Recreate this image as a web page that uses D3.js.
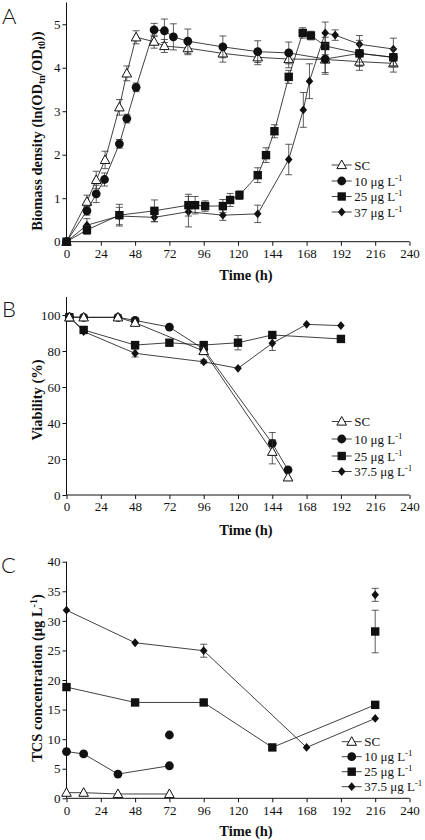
<!DOCTYPE html>
<html><head><meta charset="utf-8">
<script src="https://cdn.jsdelivr.net/npm/d3@7"></script>
<style>
html,body{margin:0;padding:0;background:#fff;}
svg{display:block;}
text{font-family:"Liberation Serif","Times New Roman",serif;fill:#111;}
</style></head>
<body>
<script>
// ---------- DATA ----------
const xTicks = [0,24,48,72,96,120,144,168,192,216,240];

// Panel A: biomass density
const aTicksY = [0,1,2,3,4,5];
const aTimeSC  = [0,14.3,20.8,27,37,42.2,48.7,61.3,68.5,84.9,109.4,133.8,155.5,181,205,228.7];
const aSC      = [0,0.92,1.42,1.88,3.09,3.87,4.70,4.60,4.50,4.45,4.33,4.24,4.20,4.19,4.14,4.10];
const aSCErr   = [0,0.15,0.2,0.2,0.18,0.17,0.15,0.15,0.15,0.15,0.2,0.17,0.2,0.3,0.2,0.2];
const aTime10  = [0,14.3,20.8,26.6,37,42.2,48.7,61.3,68.5,74.8,84.9,109.4,133.8,155.5,181,205,228.7];
const a10      = [0,0.71,1.10,1.43,2.25,2.83,3.55,4.87,4.85,4.71,4.61,4.48,4.37,4.34,4.20,4.33,4.24];
const a10Err   = [0,0.1,0.2,0.15,0.1,0.1,0.1,0.15,0.27,0.3,0.28,0.25,0.25,0.25,0.35,0.3,0.2];
const aTime25  = [0,14.3,37,61.5,85.3,90,97,109.4,114.5,121,133.8,139.6,145.5,155.5,165.3,171,181,205,228.7];
const a25      = [0,0.27,0.61,0.71,0.84,0.84,0.82,0.82,0.96,1.07,1.53,1.99,2.54,3.79,4.80,4.74,4.50,4.33,4.24];
const a25Err   = [0,0.1,0.25,0.25,0.25,0.2,0.12,0.15,0.15,0.1,0.17,0.17,0.15,0.15,0.12,0.1,0.2,0.2,0.2];
const aTime37  = [0,14.3,37,61.5,85.3,109.4,133.8,155.5,165.7,170,181,188,205,228.7];
const a37      = [0,0.38,0.59,0.56,0.69,0.61,0.64,1.89,3.03,3.69,4.80,4.75,4.54,4.43];
const a37Err   = [0,0.15,0.2,0.1,0.35,0.12,0.2,0.35,0.4,0.4,0.25,0.12,0.2,0.25];

// Panel B: viability
const bTicksY = [0,20,40,60,80,100];
const bTimeSC  = [2,12,36,48,96,144,155];
const bSC      = [98.7,98.7,98.7,95.7,80,24,9.8];
const bSCErr   = [1,1,1,1.5,2,6.7,0];
const bTime10  = [2,12,36,48,72,96,144,155];
const b10      = [99,98.7,98.7,97,93.3,81,28.7,13.9];
const b10Err   = [0,0,0,1,0,1,6,0];
const bTime25  = [2,12,48,72,96,120,144,192];
const b25      = [98.7,91.7,83.3,84.6,83.3,84.6,88.9,86.7];
const b25Err   = [1,1,0,0,1,4,0,0];
const bTime37  = [2,12,48,96,120,144,168,192];
const b37      = [99,90.8,78.7,74,70.4,84.3,94.8,94.1];
const b37Err   = [0,0,2,1,0,4,0,0];

// Panel C: TCS concentration
const cTicksY = [0,5,10,15,20,25,30,35,40];
const cTimeSC  = [0,12,36,72];
const cSC      = [0.95,0.95,0.73,0.73];
const cTime10  = [0,12,36,72];
const c10      = [7.9,7.5,4.1,5.5];
const c10Extra = [[72,10.7,0]];
const cTime25  = [0,48,96,144,216];
const c25      = [18.8,16.2,16.2,8.6,15.8];
const c25Extra = [[216,28.2,3.6]];
const cTime37  = [0,48,96,168,216];
const c37      = [31.8,26.3,24.95,8.6,13.5];
const c37Err   = [0,0,1.1,0,0];
const c37Extra = [[216,34.4,1.1]];

const legendA = ["SC","10 μg L","25 μg L","37 μg L"];
const legendBC = ["SC","10 μg L","25 μg L","37.5 μg L"];

// ---------- DRAW ----------
const W = 425, H = 840;
const svg = d3.select("body").append("svg").attr("width",W).attr("height",H);
const x = d3.scaleLinear().domain([0,240]).range([66.5,409.5]);

function marker(g, type, cx, cy){
  if(type==="tri"){
    g.append("path").attr("d",`M${cx},${cy-5}L${cx+4.8},${cy+3.6}L${cx-4.8},${cy+3.6}Z`)
      .attr("fill","#fff").attr("stroke","#111").attr("stroke-width",1);
  } else if(type==="circ"){
    g.append("circle").attr("cx",cx).attr("cy",cy).attr("r",4.4).attr("fill","#111");
  } else if(type==="sq"){
    g.append("rect").attr("x",cx-4.2).attr("y",cy-4.2).attr("width",8.4).attr("height",8.4).attr("fill","#111");
  } else {
    g.append("path").attr("d",`M${cx},${cy-4.4}L${cx+3.8},${cy}L${cx},${cy+4.4}L${cx-3.8},${cy}Z`).attr("fill","#111");
  }
}

function errBar(g, cx, y, v, e){
  if(!e) return;
  const y1 = y(v+e), y2 = y(Math.max(0,v-e));
  g.append("line").attr("x1",cx).attr("x2",cx).attr("y1",y1).attr("y2",y2).attr("stroke","#333").attr("stroke-width",0.8);
  [y1,y2].forEach(yy=>g.append("line").attr("x1",cx-3.5).attr("x2",cx+3.5).attr("y1",yy).attr("y2",yy).attr("stroke","#333").attr("stroke-width",0.8));
}

function drawSeries(g, y, ts, vs, es, type){
  const line = d3.line().x((d,i)=>x(ts[i])).y(d=>y(d));
  g.append("path").attr("d",line(vs)).attr("fill","none").attr("stroke","#111").attr("stroke-width",0.8);
  vs.forEach((v,i)=>{ if(es) errBar(g, x(ts[i]), y, v, es[i]); });
  vs.forEach((v,i)=>marker(g,type,x(ts[i]),y(v)));
}

function axes(y, ticksY, yTop){
  const ax = svg.append("g").attr("transform",`translate(0,${y(0)})`)
    .call(d3.axisBottom(x).tickValues(xTicks).tickSize(4).tickPadding(3).tickFormat(d3.format("d")));
  ax.select(".domain").attr("d",`M${x(0)},0H${x(240)}`).attr("stroke","#111");
  ax.selectAll(".tick line").attr("stroke","#111");
  ax.selectAll("text").attr("font-size",13).attr("fill","#111");
  const ay = svg.append("g").attr("transform",`translate(${x(0)},0)`)
    .call(d3.axisLeft(y).tickValues(ticksY).tickSize(4).tickPadding(2).tickFormat(d3.format("d")));
  ay.select(".domain").attr("d",`M0,${yTop}V${y(0)}`).attr("stroke","#111");
  ay.selectAll(".tick line").attr("stroke","#111");
  ay.selectAll("text").attr("font-size",13).attr("fill","#111");
}

function legend(lx, ys, labels){
  const types = ["tri","circ","sq","dia"];
  const g = svg.append("g");
  labels.forEach((lab,i)=>{
    g.append("line").attr("x1",lx).attr("x2",lx+20).attr("y1",ys[i]).attr("y2",ys[i]).attr("stroke","#111").attr("stroke-width",0.8);
    marker(g, types[i], lx+10, ys[i]);
    const t = g.append("text").attr("x",lx+22.5).attr("y",ys[i]+4.5).attr("font-size",13);
    t.append("tspan").text(lab);
    if(i>0) t.append("tspan").attr("dy",-5).attr("font-size",9).text("-1");
  });
}

function panelLetter(txt, lx, ly){
  svg.append("text").attr("x",lx).attr("y",ly).attr("font-size",22)
    .style("font-family","Lato, 'Liberation Sans', sans-serif").style("font-weight",300).text(txt);
}

function xTitle(yy){
  svg.append("text").attr("x",246).attr("y",yy).attr("text-anchor","middle")
    .attr("font-size",14.5).attr("font-weight","bold").text("Time (h)");
}

// ---- Panel A ----
const yA = d3.scaleLinear().domain([0,5.5]).range([241.7,2.5]);
axes(yA, aTicksY, 2.5);
const gA = svg.append("g");
drawSeries(gA, yA, aTimeSC, aSC, aSCErr, "tri");
drawSeries(gA, yA, aTime37, a37, a37Err, "dia");
drawSeries(gA, yA, aTime25, a25, a25Err, "sq");
drawSeries(gA, yA, aTime10, a10, a10Err, "circ");
legend(331.7, [165,181,196.5,212], legendA);
panelLetter("A", 2, 24);
xTitle(280);
{
  const t = svg.append("text").attr("transform","translate(42,131) rotate(-90)").attr("text-anchor","middle")
    .attr("font-size",14.5).attr("font-weight","bold");
  t.append("tspan").text("Biomass density (ln(OD");
  t.append("tspan").attr("dy",3).attr("font-size",10).text("tn");
  t.append("tspan").attr("dy",-3).text("/OD");
  t.append("tspan").attr("dy",3).attr("font-size",10).text("t0");
  t.append("tspan").attr("dy",-3).text("))");
}

// ---- Panel B ----
const yB = d3.scaleLinear().domain([0,110]).range([495,297]);
axes(yB, bTicksY, 297);
const gB = svg.append("g");
drawSeries(gB, yB, bTime37, b37, b37Err, "dia");
drawSeries(gB, yB, bTime25, b25, b25Err, "sq");
drawSeries(gB, yB, bTime10, b10, b10Err, "circ");
drawSeries(gB, yB, bTimeSC, bSC, bSCErr, "tri");
legend(331.7, [421.5,439,456,471.5], legendBC);
panelLetter("B", 2, 317);
xTitle(535);
svg.append("text").attr("transform","translate(42,400) rotate(-90)").attr("text-anchor","middle")
  .attr("font-size",14.5).attr("font-weight","bold").text("Viability (%)");

// ---- Panel C ----
const yC = d3.scaleLinear().domain([0,40]).range([798.3,561.7]);
axes(yC, cTicksY, 561.7);
const gC = svg.append("g");
drawSeries(gC, yC, cTime37, c37, c37Err, "dia");
drawSeries(gC, yC, cTime25, c25, null, "sq");
drawSeries(gC, yC, cTime10, c10, null, "circ");
drawSeries(gC, yC, cTimeSC, cSC, null, "tri");
[[c10Extra,"circ"],[c25Extra,"sq"],[c37Extra,"dia"]].forEach(([arr,type])=>{
  arr.forEach(([t,v,e])=>{ errBar(gC, x(t), yC, v, e); marker(gC, type, x(t), yC(v)); });
});
legend(341.7, [741.7,756.7,771.7,786.7], legendBC);
panelLetter("C", 1, 573);
xTitle(836);
{
  const t = svg.append("text").attr("transform","translate(42,678) rotate(-90)").attr("text-anchor","middle")
    .attr("font-size",14.5).attr("font-weight","bold");
  t.append("tspan").text("TCS concentration (μg L");
  t.append("tspan").attr("dy",-5).attr("font-size",10).text("-1");
  t.append("tspan").attr("dy",5).text(")");
}
</script>
</body></html>
